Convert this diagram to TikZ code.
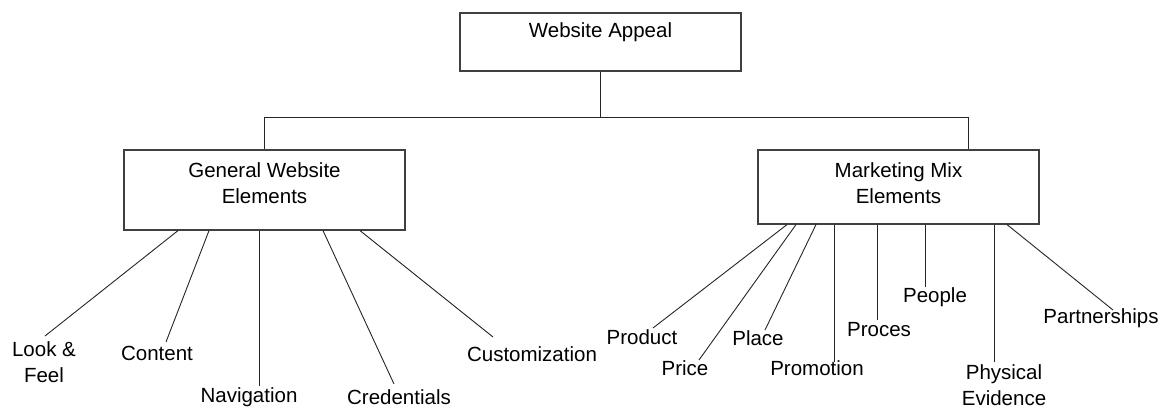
\documentclass[tikz,border=0pt]{standalone}
\usepackage{fontspec}
\setmainfont{Liberation Sans}
\begin{document}
\tikzset{
 box/.style={draw=black!75, line width=1.2pt, minimum width=281pt, inner sep=0pt},
 lbl/.style={font=\fontsize{20.5}{26}\selectfont, align=center, inner sep=0pt},
 conn/.style={line width=0.9pt, draw=black!85},
}
\begin{tikzpicture}[x=1pt,y=-1pt]
\useasboundingbox[fill=white] (0,0) rectangle (1168,409);
% boxes
\node[box, minimum height=58pt] (wa) at (600.5,42) {};
\node[lbl] (wat) at (600.5,32) {Website Appeal};
\node[box, minimum height=80pt] (gen) at (264.5,190) {};
\node[lbl] (gent) at (264.5,183.5) {General Website\\Elements};
\node[box, minimum height=74pt] (mkt) at (898.5,187) {};
\node[lbl] (mktt) at (898.5,183.5) {Marketing Mix\\Elements};
% tree connectors
\coordinate (bus) at ([yshift=-46pt]wa.south);
\draw[conn] (wa.south) -- (bus) -| (gen.north);
\draw[conn] (bus) -| ([xshift=69.5pt]mkt.north);
% free ends
\coordinate (elf) at (45,336);
\coordinate (eco) at (166,342);
\coordinate (ena) at (259,386);
\coordinate (ecr) at (394,384);
\coordinate (ecu) at (493,337);
\coordinate (epd) at (653,328);
\coordinate (epr) at (699,360);
\coordinate (epl) at (765,330);
\coordinate (epm) at (834,362);
\coordinate (epc) at (877,320);
\coordinate (epe) at (925,287);
\coordinate (eph) at (994,362);
\coordinate (epa) at (1113,310);
% general connectors
\draw[conn] ([xshift=-86.5pt]gen.south) -- (elf);
\draw[conn] ([xshift=-55.5pt]gen.south) -- (eco);
\draw[conn] ([xshift=-5.5pt]gen.south) -- (ena);
\draw[conn] ([xshift=58.5pt]gen.south) -- (ecr);
\draw[conn] ([xshift=95.5pt]gen.south) -- (ecu);
% marketing connectors
\draw[conn] ([xshift=-111.5pt]mkt.south) -- (epd);
\draw[conn] ([xshift=-102.5pt]mkt.south) -- (epr);
\draw[conn] ([xshift=-82.5pt]mkt.south) -- (epl);
\draw[conn] ([xshift=-64.5pt]mkt.south) -- (epm);
\draw[conn] ([xshift=-21.5pt]mkt.south) -- (epc);
\draw[conn] ([xshift=26.5pt]mkt.south) -- (epe);
\draw[conn] ([xshift=95.5pt]mkt.south) -- (eph);
\draw[conn] ([xshift=108.5pt]mkt.south) -- (epa);
% labels
\node[lbl] (lf) at (44,362.5) {Look \&\\Feel};
\node[lbl] (co) at (157,353) {Content};
\node[lbl] (na) at (249,397) {Navigation};
\node[lbl] (cr) at (399,397) {Credentials};
\node[lbl] (cu) at (532,354) {Customization};
\node[lbl] (pd) at (642,337) {Product};
\node[lbl] (pr) at (685,368) {Price};
\node[lbl] (pl) at (758,338) {Place};
\node[lbl] (pm) at (817,368) {Promotion};
\node[lbl] (pc) at (879,330) {Proces};
\node[lbl] (pe) at (935,297) {People};
\node[lbl] (ph) at (1004,385) {Physical\\Evidence};
\node[lbl] (pa) at (1101,318) {Partnerships};
\end{tikzpicture}
\end{document}
